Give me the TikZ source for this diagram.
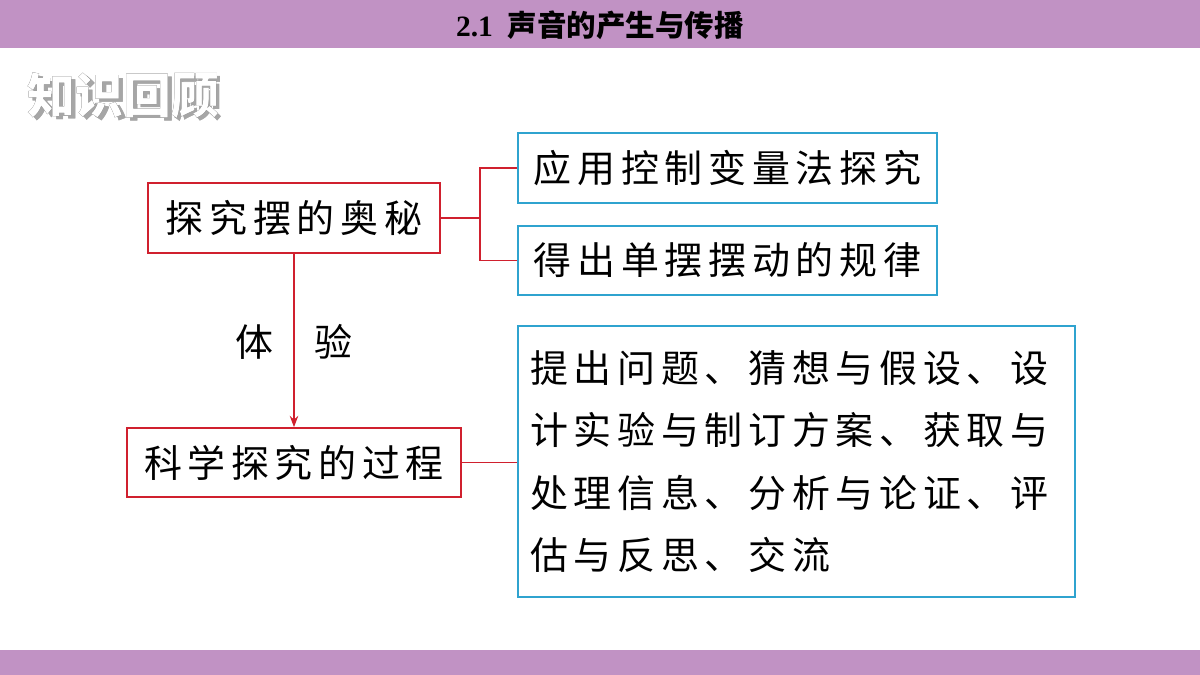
\documentclass[tikz,border=0pt]{standalone}
\usepackage{fontspec}
\usepackage[outline]{contour}
\usetikzlibrary{arrows.meta}
\setmainfont{Liberation Serif}
\newfontfamily\cjk{Noto Sans CJK SC}
\newfontfamily\cjks[LetterSpace=15]{Noto Sans CJK SC}
\definecolor{bar}{HTML}{C192C4}
\definecolor{rd}{HTML}{D0202E}
\definecolor{bl}{HTML}{2FA3CF}
\begin{document}
\begin{tikzpicture}[x=0.025cm,y=-0.025cm,
 rbox/.style={draw=rd,line width=1.2pt,inner sep=0,font=\cjks\fontsize{27}{32}\selectfont},
 bbox/.style={draw=bl,line width=1.2pt,inner sep=0,font=\cjks\fontsize{27}{32}\selectfont},
 link/.style={rd,line width=1.2pt}]
\useasboundingbox (0,0) rectangle (1200,675);
\fill[bar] (0,0) rectangle (1200,48);
\fill[bar] (0,650) rectangle (1200,675);
\node (title) at (600,25) {\fontsize{21}{24}\selectfont\bfseries 2.1\ \ {\cjk 声音的产生与传播}};
\contourlength{1.1pt}
\node[anchor=west] (head) at (23,97) {\cjk\bfseries\fontsize{34}{40}\selectfont\rlap{\raisebox{-2.5pt}{\hspace{2.5pt}\contour{gray!70}{\color{gray!70}知识回顾}}}\contour{black!85}{\color{white}知识回顾}};
\node[rbox,minimum width=292*0.025cm,minimum height=70*0.025cm] (A) at (294,218) {探究摆的奥秘};
\node[bbox,minimum width=419*0.025cm,minimum height=70*0.025cm] (B) at (727.5,168) {应用控制变量法探究};
\node[bbox,minimum width=419*0.025cm,minimum height=69*0.025cm] (C) at (727.5,260.5) {得出单摆摆动的规律};
\node[rbox,minimum width=334*0.025cm,minimum height=69*0.025cm] (D) at (294,462.5) {科学探究的过程};
\node[bbox,minimum width=557*0.025cm,minimum height=271*0.025cm] (E) at (796.5,461.5) {};
\node[anchor=north west,align=left,inner sep=0,font=\cjks\fontsize{27}{44.5}\selectfont] (Et) at (530,350)
 {提出问题、猜想与假设、设\\计实验与制订方案、获取与\\处理信息、分析与论证、评\\估与反思、交流};
\coordinate (J) at (480,218);
\draw[link] (A.east) -- (J);
\draw[link] (J) |- (B.west);
\draw[link] (J) |- (C.west);
\draw[link] (D.east) -- (D.east -| E.west);
\draw[link,-{Stealth[length=8pt,width=6pt]}] (A.south) -- (D.north);
\node[font=\cjk\fontsize{27}{32}\selectfont] (L) at (294,342) {体\hspace{1.1em}验};
\end{tikzpicture}
\end{document}
